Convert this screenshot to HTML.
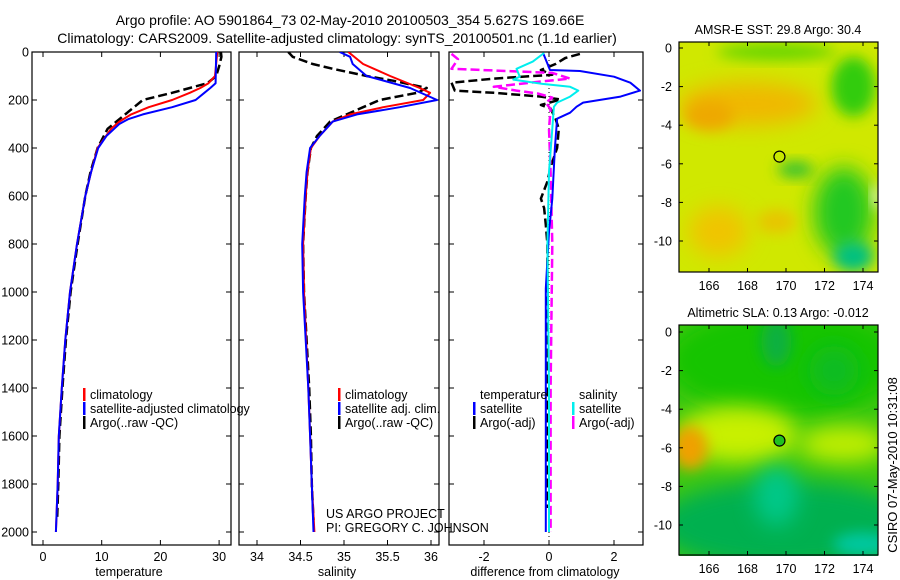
<!DOCTYPE html>
<html><head><meta charset="utf-8"><style>
html,body{margin:0;padding:0;background:#fff;}
svg{display:block;font-family:"Liberation Sans",Arial,sans-serif;}
</style></head><body>
<svg id="chart" width="900" height="580" viewBox="0 0 900 580" xmlns="http://www.w3.org/2000/svg">
<defs>
<filter id="blur6" x="-50%" y="-50%" width="200%" height="200%"><feGaussianBlur stdDeviation="7"/></filter>
<filter id="blur10" x="-50%" y="-50%" width="200%" height="200%"><feGaussianBlur stdDeviation="11"/></filter>
<clipPath id="cm1"><rect x="679" y="42" width="199" height="230"/></clipPath>
<clipPath id="cm2"><rect x="679" y="325" width="199" height="231"/></clipPath>
<clipPath id="cp3"><rect x="449" y="52" width="194" height="493"/></clipPath>
<clipPath id="cp2"><rect x="239" y="52" width="200" height="493"/></clipPath>
</defs>
<text x="350" y="25" font-size="14" text-anchor="middle">Argo profile: AO 5901864_73 02-May-2010 20100503_354 5.627S 169.66E</text>
<text x="337" y="43" font-size="14" text-anchor="middle">Climatology: CARS2009. Satellite-adjusted climatology: synTS_20100501.nc (1.1d earlier)</text>
<g id="p1"></g>
<g id="p2"></g>
<g id="p3"></g>
<g id="m1"></g>
<g id="m2"></g>
<text transform="translate(897,465) rotate(-90)" font-size="13" text-anchor="middle">CSIRO 07-May-2010 10:31:08</text>
</svg>
<script>
// ---- data ----
const tClimDepth=[0,100,130,150,170,200,230,260,290,320,400,500,600,800,1000,1200,1400,1600,1800,2000];
const tClim=[29.7,29.3,28.2,26.8,25,22,18,15,13,11.6,9.3,8.2,7.2,5.8,4.6,3.8,3.2,2.7,2.5,2.2];
const tSatDepth=[0,130,150,170,200,230,260,280,300,350,400,500,600,800,1000,1200,1400,1600,1800,2000];
const tSat=[29.5,29.4,28.5,27.5,26,22,17,14.5,13,10.8,9.4,8.2,7.2,5.8,4.6,3.8,3.2,2.7,2.5,2.2];
const tArgoDepth=[0,20,60,100,130,150,170,200,230,260,290,320,400,500,600,800,1000,1200,1400,1600,1800,1950];
const tArgo=[30.3,30.4,30,29.5,28,25,22,17,15.5,14,12.5,11,9.3,8.1,7.2,5.9,4.7,3.9,3.3,2.8,2.6,2.4];
const sClimDepth=[0,50,100,150,170,200,230,260,290,350,400,500,600,800,1000,1400,1600,1800,2000];
const sClim=[35.05,35.22,35.53,35.87,35.99,35.91,35.45,35.07,34.87,34.72,34.62,34.58,34.56,34.53,34.54,34.59,34.61,34.63,34.66];
const sSatDepth=[0,20,50,100,150,200,230,260,290,350,400,500,600,800,1000,1400,1600,1800,2000];
const sSat=[34.95,35.07,35.1,35.26,35.76,36.07,35.64,35.15,34.87,34.72,34.61,34.57,34.55,34.52,34.53,34.59,34.61,34.63,34.65];
const sArgoDepth=[0,20,50,70,100,120,150,170,200,230,260,290,350,400,500,600,800,1000,1400,1600,1800,1950];
const sArgo=[34.36,34.41,34.64,34.87,35.26,35.57,35.95,35.84,35.41,35.22,35.03,34.84,34.69,34.62,34.58,34.56,34.53,34.54,34.6,34.62,34.63,34.65];
const dTSatDepth=[4,75,79,103,128,161,186,211,228,253,278,400,611,750,986,1400,2000];
const dTSat=[-0.18,0.03,0.95,2,2.5,2.8,2.2,1.05,0.85,0.65,0.25,0.18,0.1,0,-0.1,-0.1,-0.1];
const dSSatDepth=[4,40,70,103,115,133,145,161,186,211,228,320,500,800,1400,2000];
const dSSat=[-0.15,-0.5,-1,-0.9,-1.1,-0.2,0.65,0.9,0.65,0.25,0.15,0.1,0,-0.05,0,0];
const dTArgoDepth=[8,25,50,75,95,111,128,161,170,186,198,221,236,278,320,400,480,540,611,650,720,800,1000,1400,1900];
const dTArgo=[0.95,0.5,0.2,-0.25,0.1,-1.7,-3.0,-2.9,-1.7,-0.25,0.35,-0.25,0.05,0.2,0.3,0.25,0.05,-0.05,-0.25,-0.15,-0.1,-0.05,-0.05,-0.05,-0.05];
const dSArgoDepth=[8,30,70,79,87,111,123,145,161,173,190,211,238,320,500,800,1400,2000];
const dSArgo=[-3.0,-2.8,-3.0,-1.3,0.1,0.65,-0.25,-1.7,-1.0,-0.35,0.1,-0.1,0.05,0,0.05,0.1,0.05,0.05];
const depthTicks=[0,200,400,600,800,1000,1200,1400,1600,1800,2000];
const tTicks=[0,10,20,30];
const sTicks=[34,34.5,35,35.5,36];
const sTickLabels=["34","34.5","35","35.5","36"];
const dTicks=[-2,0,2];
const lonTicks=[166,168,170,172,174];
const latTicks=[0,-2,-4,-6,-8,-10];
const argoLon=169.66, argoLat=-5.627;

const NS="http://www.w3.org/2000/svg";
function mk(tag,attrs,parent){const e=document.createElementNS(NS,tag);for(const k in attrs)e.setAttribute(k,attrs[k]);parent.appendChild(e);return e;}
const yD=d=>52+0.24*d;
const xT=t=>43+5.87*t;
const xS=s=>257+87*(s-34);
const xDf=v=>549+32.5*v;

function frame(g,x0,x1,ticks,xf,labels,xlabel,xlabelX,showY){
  const r=mk('rect',{x:x0,y:52,width:x1-x0,height:493,fill:'none',stroke:'#000','stroke-width':1.2},g);
  
  
  ticks.forEach((t,i)=>{const x=xf(t);
    mk('line',{x1:x,x2:x,y1:545,y2:540,stroke:'#000'},g);mk('line',{x1:x,x2:x,y1:52,y2:57,stroke:'#000'},g);
    const tx=mk('text',{x:x,y:561,'font-size':12.5,'text-anchor':'middle'},g);tx.textContent=labels[i];
    
    });
  depthTicks.forEach(d=>{const y=yD(d);mk('line',{x1:x0,x2:x0+5,y1:y,y2:y,stroke:'#000'},g);mk('line',{x1:x1,x2:x1-5,y1:y,y2:y,stroke:'#000'},g);
    if(showY){const tx=mk('text',{x:29,y:y+4.5,'font-size':12.5,'text-anchor':'end'},g);tx.textContent=d;
    
    }});
  const xl=mk('text',{x:xlabelX,y:576,'font-size':12.5,'text-anchor':'middle'},g);xl.textContent=xlabel;
  
  
}
function line(g,xs,ds,xf,color,dash,w,name){
  const pts=xs.map((v,i)=>xf(v).toFixed(1)+','+yD(ds[i]).toFixed(1)).join(' ');
  const p=mk('polyline',{points:pts,fill:'none',stroke:color,'stroke-width':w,'stroke-dasharray':dash||'none','stroke-linejoin':'round'},g);
  
  
}
function legend(g,x,y,items){
  items.forEach((it,i)=>{const yy=y+i*14;
    if(it[0])mk('rect',{x:x,y:yy-10,width:2.5,height:13,fill:it[0]},g);
    const t=mk('text',{x:x+7,y:yy+1,'font-size':12.5},g);t.textContent=it[1];
    
    });
}
// panel 1
const p1=document.getElementById('p1');
frame(p1,32,231,tTicks,xT,tTicks.map(String),'temperature',129,true);
line(p1,tArgo,tArgoDepth,xT,'#000','9,4',2.5,'temp-argo-line');
line(p1,tClim,tClimDepth,xT,'#f00',null,2,'temp-climatology-line');
line(p1,tSat,tSatDepth,xT,'#00f',null,2,'temp-satellite-line');
legend(p1,83,398,[['#f00','climatology'],['#00f','satellite-adjusted climatology'],['#000','Argo(..raw -QC)']]);
// panel 2
const p2=document.getElementById('p2');
frame(p2,239,439,sTicks,xS,sTickLabels,'salinity',337,false);
const g2=mk('g',{'clip-path':'url(#cp2)'},p2);
line(g2,sArgo,sArgoDepth,xS,'#000','9,4',2.5,'sal-argo-line');
line(g2,sClim,sClimDepth,xS,'#f00',null,2,'sal-climatology-line');
line(g2,sSat,sSatDepth,xS,'#00f',null,2,'sal-satellite-line');
legend(p2,338,398,[['#f00','climatology'],['#00f','satellite adj. clim.'],['#000','Argo(..raw -QC)']]);
legend(p2,319,517,[[null,'US ARGO PROJECT'],[null,'PI: GREGORY C. JOHNSON']]);
// panel 3
const p3=document.getElementById('p3');
frame(p3,449,643,dTicks,xDf,dTicks.map(String),'difference from climatology',545,false);
const g3=mk('g',{'clip-path':'url(#cp3)'},p3);
mk('line',{x1:xDf(0),x2:xDf(0),y1:52,y2:545,stroke:'#000','stroke-dasharray':'1,3'},g3);
line(g3,dTArgo,dTArgoDepth,xDf,'#000','9,4',2.5,'diff-temp-argo-line');
line(g3,dSArgo,dSArgoDepth,xDf,'#f0f','9,4',2.5,'diff-sal-argo-line');
line(g3,dTSat,dTSatDepth,xDf,'#00f',null,2,'diff-temp-satellite-line');
line(g3,dSSat,dSSatDepth,xDf,'#0ee',null,2,'diff-sal-satellite-line');
legend(p3,473,398,[[null,'temperature'],['#00f','satellite'],['#000','Argo(-adj)']]);
legend(p3,572,398,[[null,'salinity'],['#0ee','satellite'],['#f0f','Argo(-adj)']]);
// maps
const xL=lon=>709+19.25*(lon-166);
function map(id,top,y0,title,clip,blobs,base,markerFill){
  const g=document.getElementById(id);
  const yL=lat=>y0-19.3*lat;
  const t=mk('text',{x:778,y:top-8,'font-size':12.5,'text-anchor':'middle'},g);t.textContent=title;
  
  
  const c=mk('g',{'clip-path':'url('+clip+')'},g);
  mk('rect',{x:679,y:top,width:199,height:231,fill:base},c);
  blobs.forEach(b=>mk('ellipse',{cx:xL(b[0]),cy:yL(b[1]),rx:b[2],ry:b[3],fill:b[4],filter:'url(#'+b[5]+')'},c));
  const m=mk('circle',{cx:xL(argoLon),cy:yL(argoLat),r:5.5,fill:markerFill,stroke:'#000','stroke-width':1.2},c);
  
  
  mk('rect',{x:679,y:top,width:199,height:230,fill:'none',stroke:'#000','stroke-width':1.2},g);
  lonTicks.forEach(l=>{const x=xL(l);mk('line',{x1:x,x2:x,y1:top+230,y2:top+226,stroke:'#000'},g);mk('line',{x1:x,x2:x,y1:top,y2:top+4,stroke:'#000'},g);
    const tx=mk('text',{x:x,y:top+248,'font-size':12.5,'text-anchor':'middle'},g);tx.textContent=l;
    
    });
  latTicks.forEach(l=>{const y=yL(l);mk('line',{x1:679,x2:683,y1:y,y2:y,stroke:'#000'},g);mk('line',{x1:878,x2:874,y1:y,y2:y,stroke:'#000'},g);
    const tx=mk('text',{x:672,y:y+4.5,'font-size':12.5,'text-anchor':'end'},g);tx.textContent=l;
    
    });
}
map('m1',42,48,'AMSR-E SST: 29.8 Argo: 30.4','#cm1',[
 [168,-2.9,70,22,'#f0b800','blur10'],[166,-3.5,25,15,'#eea800','blur6'],[169.5,-0.2,60,8,'#60d400','blur6'],
 [173.5,-2,22,30,'#30cc10','blur6'],
 [173,-8.5,30,45,'#20c820','blur10'],[173.5,-10.8,20,15,'#00c080','blur6'],[166.5,-9.5,30,25,'#f0c400','blur10'],
 [170.5,-6.3,18,8,'#30c030','blur6'],[169.5,-9,20,12,'#e8c400','blur6'],[174.7,-7.7,4,12,'#ffffff','blur6']
],'#d0e800','#c8e800');
map('m2',325,332,'Altimetric SLA: 0.13 Argo: -0.012','#cm2',[
 [170,-1.5,120,55,'#18c400','blur10'],[169.5,-0.5,15,25,'#10b040','blur6'],[172.5,-2,25,25,'#10bc20','blur10'],
 [167.5,-5.3,60,28,'#c8f000','blur10'],[173,-5.8,45,18,'#c0ee00','blur10'],
 [165,-6,18,22,'#f0a000','blur6'],[170,-10,130,45,'#00b050','blur10'],[169.5,-8.5,22,30,'#00c888','blur10'],
 [174,-11,30,12,'#00c8a0','blur6']
],'#40c810','#20c020');
</script>
</body></html>
